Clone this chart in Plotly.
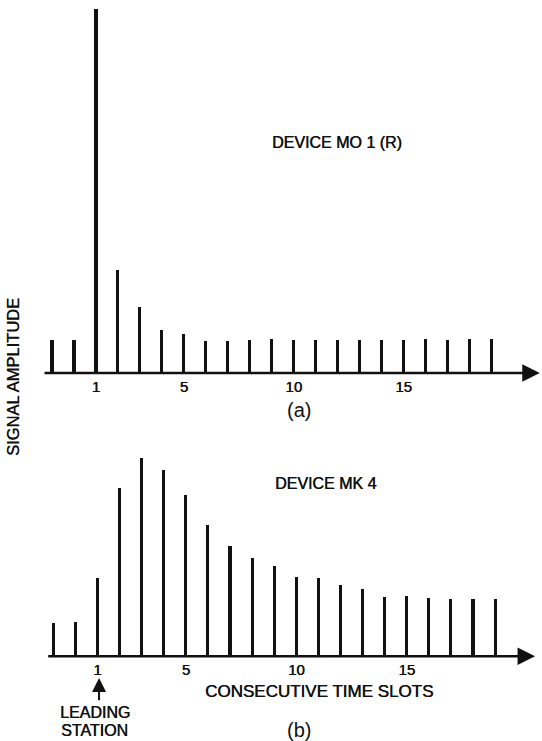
import plotly.graph_objects as go

# ---------------- data ----------------
slots = list(range(-1, 20))          # consecutive time slots (two before the leading station)
tick_vals = [1, 5, 10, 15]
tick_text = ["1", "5", "10", "15"]

# signal amplitude (arbitrary units)
amp_mo1 = [33.2, 32.9, 363.6, 103.3, 66.0, 43.4, 38.8, 32.5, 32.5, 33.3, 33.7,
           32.7, 33.1, 32.8, 33.5, 33.2, 33.2, 33.6, 32.9, 33.6, 34.0]
amp_mk4 = [33.5, 33.9, 78.6, 168.3, 198.0, 186.7, 161.4, 131.4, 110.8, 98.2, 90.3,
           79.3, 78.0, 71.1, 67.4, 59.8, 60.5, 58.5, 56.9, 56.9, 57.3]

title_a = "DEVICE MO 1 (R)"
title_b = "DEVICE MK 4"
x_title = "CONSECUTIVE TIME SLOTS"
y_title = "SIGNAL AMPLITUDE"

# ---------------- layout ----------------
W, H = 542, 741
FONT = "Liberation Sans, Arial, Helvetica, sans-serif"
INK = "#111111"
SHADOW = "0.45px 0px 0px #111111"

fig = go.Figure()
fig.add_trace(go.Bar(x=slots, y=amp_mo1, xaxis="x", yaxis="y", width=0.14,
                     marker=dict(color=INK, line=dict(width=0)), showlegend=False,
                     hoverinfo="skip"))
fig.add_trace(go.Bar(x=slots, y=amp_mk4, xaxis="x2", yaxis="y2", width=0.14,
                     marker=dict(color=INK, line=dict(width=0)), showlegend=False,
                     hoverinfo="skip"))

base_top = 373.0      # pixel row of panel (a) baseline
base_bot = 656.3      # pixel row of panel (b) baseline
axis_common = dict(showgrid=False, zeroline=False, showline=False, ticks="",
                   tickvals=tick_vals, ticktext=tick_text,
                   tickfont=dict(family=FONT, size=15, color=INK, shadow=SHADOW),
                   ticklabelstandoff=3, fixedrange=True)

fig.update_layout(
    width=W, height=H, autosize=False,
    margin=dict(l=0, r=0, t=0, b=0, pad=0),
    paper_bgcolor="white", plot_bgcolor="rgba(0,0,0,0)",
    bargap=0,
    xaxis=dict(domain=[0, 1], range=[-74 / 21.97, (W - 74) / 21.97],
               anchor="free", position=1 - base_top / H, **axis_common),
    yaxis=dict(domain=[0, 1], range=[base_top - H, base_top], visible=False, fixedrange=True),
    xaxis2=dict(domain=[0, 1], range=[-75.4 / 22.09, (W - 75.4) / 22.09],
                anchor="free", position=1 - base_bot / H, overlaying="x", **axis_common),
    yaxis2=dict(domain=[0, 1], range=[base_bot - H, base_bot], visible=False,
                overlaying="y", fixedrange=True),
)

ann = []
# axis lines with arrows
ann.append(dict(x=21.2, y=0, ax=-1.41, ay=0, xref="x", yref="y", axref="x", ayref="y",
                text="", showarrow=True, arrowhead=2, arrowsize=1.4, arrowwidth=2.5,
                arrowcolor=INK, standoff=0, startstandoff=0))
ann.append(dict(x=20.81, y=0, ax=-1.30, ay=0, xref="x2", yref="y2", axref="x2", ayref="y2",
                text="", showarrow=True, arrowhead=2, arrowsize=1.4, arrowwidth=2.5,
                arrowcolor=INK, standoff=0, startstandoff=0))
# leading station arrow
ann.append(dict(x=1.07, y=-21.7, ax=1.07, ay=-45.4, xref="x2", yref="y2", axref="x2", ayref="y2",
                text="", showarrow=True, arrowhead=2, arrowsize=1.4, arrowwidth=2,
                arrowcolor=INK, standoff=0, startstandoff=0))


def txt(s, px, py, size, angle=0, shadow=SHADOW):
    return dict(x=px / W, y=1 - py / H, xref="paper", yref="paper", text=s,
                showarrow=False, xanchor="center", yanchor="middle", textangle=angle,
                font=dict(family=FONT, size=size, color=INK, shadow=shadow))


ann += [
    txt(title_a, 337, 143, 16),
    txt("(a)", 299, 410, 20, shadow="none"),
    txt(title_b, 325, 483, 16),
    txt(x_title, 319, 691, 17),
    txt("LEADING", 94.5, 712, 16),
    txt("STATION", 94, 730, 16),
    txt("(b)", 299, 730, 20, shadow="none"),
    txt(y_title, 13, 377, 16.5, angle=-90),
]
fig.update_layout(annotations=ann)

fig.write_html("out.html", config={"displayModeBar": False},
               post_script="document.body.style.margin='0';document.body.style.overflow='hidden';")
